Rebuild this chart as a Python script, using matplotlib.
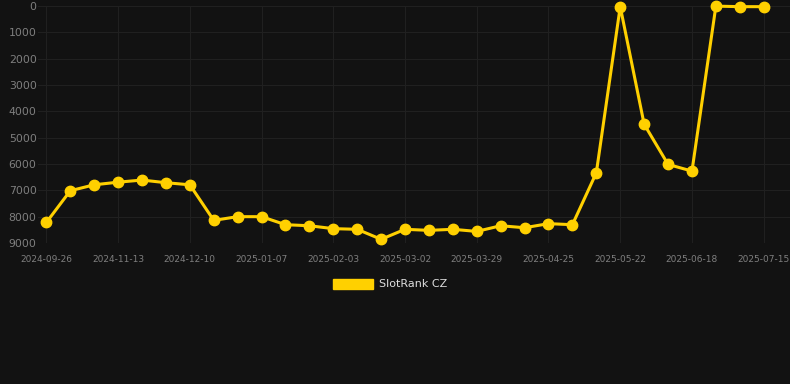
import matplotlib.pyplot as plt
from matplotlib import patches

# weekly-ish rank samples, labels shown every third point
dates = ["2024-09-26", "", "", "2024-11-13", "", "", "2024-12-10", "", "", "2025-01-07", "", "",
         "2025-02-03", "", "", "2025-03-02", "", "", "2025-03-29", "", "", "2025-04-25", "", "",
         "2025-05-22", "", "", "2025-06-18", "", "", "2025-07-15"]
rank = [8220, 7015, 6790, 6690, 6610, 6710, 6790, 8140, 8000, 8000, 8305, 8345, 8455, 8480, 8860,
        8480, 8520, 8480, 8560, 8345, 8420, 8265, 8305, 6335, 25, 4490, 6015, 6270, 5, 25, 25]
series_label = "SlotRank CZ"

bg = "#121212"
line_color = "#FFD000"
tick_color = "#7f7f7f"
grid_color = "#202020"

fig = plt.figure(figsize=(7.9, 3.84), dpi=100, facecolor=bg)
ax = fig.add_axes([38 / 790, 1 - 243 / 384, 1 - 38 / 790, (243 - 6) / 384])
ax.set_facecolor(bg)

x = list(range(len(rank)))
ax.plot(x, rank, color=line_color, linewidth=2.2, marker="o", markersize=7.5, zorder=3,
        clip_on=False)

ax.set_ylim(9000, 0)
ax.set_yticks(range(0, 9001, 1000))
ax.set_xlim(-0.35, len(rank) - 1 + 1.1)
tick_pos = [i for i, d in enumerate(dates) if d]
ax.set_xticks(tick_pos)
ax.set_xticklabels([dates[i] for i in tick_pos])

ax.grid(True, color=grid_color, linewidth=0.8)
ax.set_axisbelow(True)
for s in ax.spines.values():
    s.set_visible(False)
ax.tick_params(axis="y", colors=tick_color, labelsize=7.8, length=0, pad=1)
ax.tick_params(axis="x", colors=tick_color, labelsize=6.5, length=0, pad=9)

# legend below the plot
handle = patches.Patch(color=line_color, label=series_label)
leg = fig.legend(handles=[handle], loc="center", bbox_to_anchor=(390 / 790, 1 - 284 / 384),
                 frameon=False, fontsize=8, handlelength=3.6, handleheight=1.0,
                 handletextpad=0.55)
for t in leg.get_texts():
    t.set_color("#dddddd")

fig.savefig("out.png", dpi=100, facecolor=bg)
